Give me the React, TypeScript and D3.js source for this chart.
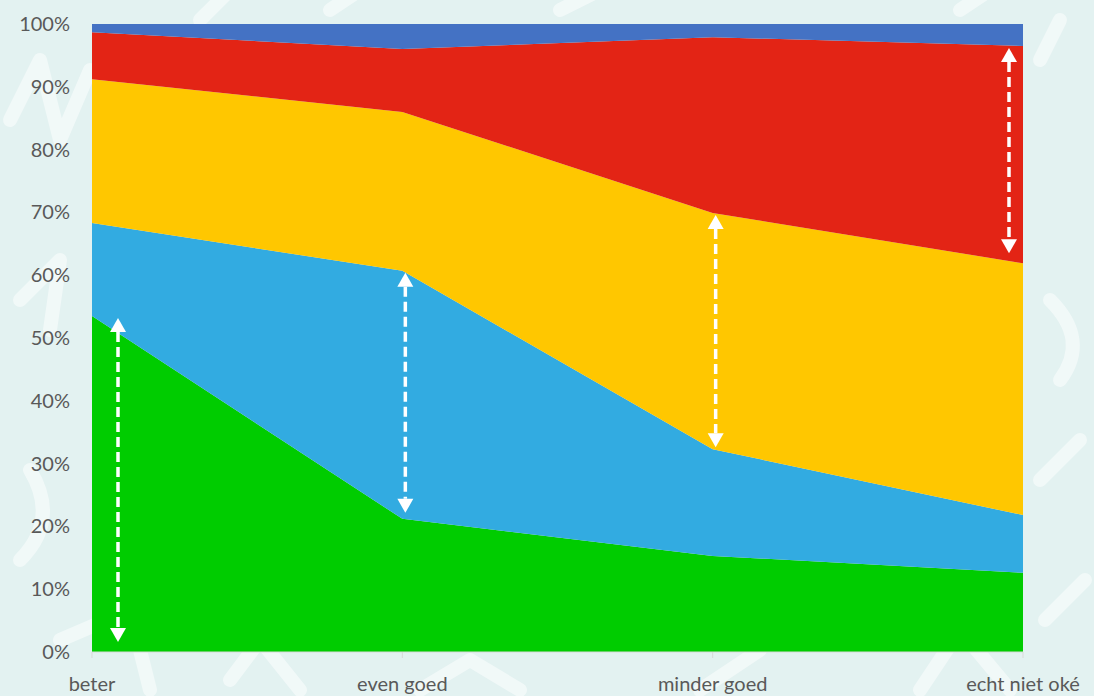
import React from "react";
import * as d3 from "d3";

const categories = ["beter", "even goed", "minder goed", "echt niet oké"];
const seriesNames = ["groen", "lichtblauw", "geel", "rood", "donkerblauw"];
const green = [53.5, 21.2, 15.3, 12.6];
const lightBlue = [14.8, 39.5, 17.0, 9.2];
const yellow = [22.9, 25.3, 37.6, 40.1];
const red = [7.5, 10.0, 28.0, 34.6];
const darkBlue = [1.3, 4.0, 2.1, 3.5];
const seriesColors = ["#00CC00", "#32ABE1", "#FFC700", "#E32415", "#4472C4"];
const yTicks = [0, 10, 20, 30, 40, 50, 60, 70, 80, 90, 100];
// arrows: category index, series index, horizontal offset in px
const arrows = [
  { cat: 0, series: 0, dx: 26, padTop: 2, padBot: 10 },
  { cat: 1, series: 1, dx: 3, padTop: 2, padBot: 6 },
  { cat: 2, series: 2, dx: 3, padTop: 2, padBot: 2 },
  { cat: 3, series: 3, dx: -14, padTop: 2, padBot: 10 },
];

const W = 1094;
const H = 696;
const M = { left: 92, right: 71, top: 24, bottom: 44 };

export default function App() {
  const allSeries = [green, lightBlue, yellow, red, darkBlue];
  const rows = categories.map((c, i) => {
    const r: any = { cat: c };
    const tot = allSeries.reduce((s, a) => s + a[i], 0);
    seriesNames.forEach((n, k) => (r[n] = (allSeries[k][i] / tot) * 100));
    return r;
  });
  const stacked = d3.stack().keys(seriesNames)(rows as any);
  const x = d3
    .scalePoint<string>()
    .domain(categories)
    .range([M.left, W - M.right]);
  const y = d3
    .scaleLinear()
    .domain([0, 100])
    .range([H - M.bottom, M.top]);
  const area = d3
    .area<any>()
    .x((d) => x(d.data.cat) as number)
    .y0((d) => y(d[0]))
    .y1((d) => y(d[1]));

  const arrowEls = arrows.map((a, i) => {
    const s = stacked[a.series][a.cat];
    const cx = (x(categories[a.cat]) as number) + a.dx;
    const yTop = y(s[1]) + a.padTop;
    const yBot = y(s[0]) - a.padBot;
    const hh = 14;
    const hw = 8;
    return (
      <g key={i}>
        <line
          x1={cx}
          x2={cx}
          y1={yTop + hh}
          y2={yBot - hh}
          stroke="#fff"
          strokeWidth={3.5}
          strokeDasharray="10,5"
        />
        <path
          d={`M${cx},${yTop} L${cx - hw},${yTop + hh} L${cx + hw},${yTop + hh} Z`}
          fill="#fff"
        />
        <path
          d={`M${cx},${yBot} L${cx - hw},${yBot - hh} L${cx + hw},${yBot - hh} Z`}
          fill="#fff"
        />
      </g>
    );
  });

  const deco = [
    "M10,120 L40,60 L60,140 L90,70",
    "M200,20 L230,-10",
    "M20,300 L60,260 L50,330",
    "M30,470 Q60,520 20,560",
    "M60,640 L130,610 L150,690",
    "M230,680 L260,640 L300,690",
    "M420,690 L470,660 L520,690",
    "M700,690 L760,650",
    "M920,690 L960,630 L1010,690",
    "M1040,60 L1060,20",
    "M1050,300 Q1090,340 1060,380",
    "M1040,480 L1080,440",
    "M1045,620 L1085,580",
    "M960,10 L990,-10",
    "M560,10 L600,-10",
    "M330,10 L360,-10",
  ];

  return (
    <svg
      width={W}
      height={H}
      style={{ position: "absolute", left: 0, top: 0 }}
      fontFamily="Lato, 'Open Sans', sans-serif"
    >
      <rect width={W} height={H} fill="#E3F2F1" />
      {deco.map((d, i) => (
        <path
          key={i}
          d={d}
          fill="none"
          stroke="#FFFFFF"
          strokeOpacity={0.5}
          strokeWidth={14}
          strokeLinecap="round"
          strokeLinejoin="round"
        />
      ))}
      {stacked.map((s, i) => (
        <path key={i} d={area(s as any) || ""} fill={seriesColors[i]} />
      ))}
      <line
        x1={M.left}
        x2={W - M.right}
        y1={y(0)}
        y2={y(0)}
        stroke="#D9D9D9"
        strokeWidth={1}
      />
      {categories.map((c) => (
        <g key={c}>
          <line
            x1={x(c)}
            x2={x(c)}
            y1={y(0)}
            y2={y(0) + 6}
            stroke="#D9D9D9"
          />
          <text
            x={x(c)}
            y={y(0) + 39}
            textAnchor="middle"
            fontSize={20}
            fill="#595959"
          >
            {c}
          </text>
        </g>
      ))}
      {yTicks.map((t) => (
        <text
          key={t}
          x={70}
          y={y(t) + 7}
          textAnchor="end"
          fontSize={20}
          fill="#595959"
        >
          {t}%
        </text>
      ))}
      {arrowEls}
    </svg>
  );
}
